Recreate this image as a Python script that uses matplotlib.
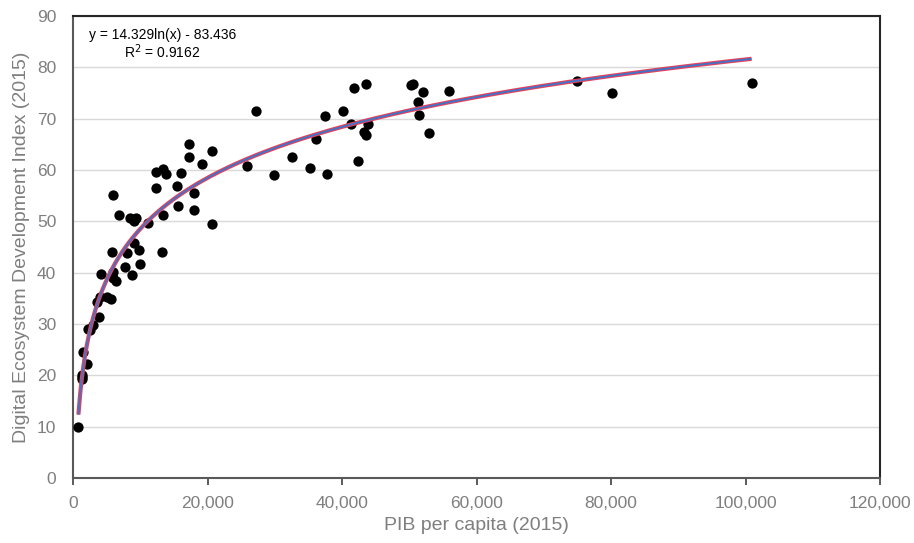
import numpy as np
import matplotlib.pyplot as plt
from matplotlib.ticker import FuncFormatter

plt.rcParams['font.family'] = ['Liberation Sans', 'DejaVu Sans']

# PIB per capita (2015) y DEDI (2015)
pib = [800, 1290, 1350, 1400, 2100, 1500, 2300, 2500, 3000, 3900, 3600, 4000,
       5000, 5600, 4200, 6000, 6000, 6400, 8700, 7700, 9900, 5800, 8000, 9800,
       9000, 13300, 11100, 8500, 9400, 9000, 6800, 13400, 6000, 12400, 15600,
       18000, 20700, 15500, 18000, 12300, 13400, 13800, 16000, 19200, 17200,
       17200, 20700, 25800, 27200, 29900, 32500, 35300, 37700, 36200, 37500,
       40200, 41300, 41800, 43600, 43800, 43300, 43500, 42400, 50300, 50600,
       52000, 51300, 51400, 52900, 55900, 75000, 80200, 100900]
dedi = [10.0, 19.6, 19.3, 20.0, 22.2, 24.5, 29.0, 28.8, 29.8, 31.3, 34.3, 35.3,
        35.3, 34.8, 39.7, 40.2, 38.9, 38.3, 39.5, 41.2, 41.7, 44.1, 43.9, 44.5,
        45.8, 44.0, 49.7, 50.6, 50.6, 50.1, 51.2, 51.2, 55.2, 56.4, 52.9,
        52.3, 49.5, 56.8, 55.6, 59.7, 60.1, 59.2, 59.5, 61.2, 62.5,
        65.0, 63.8, 60.8, 71.4, 59.0, 62.5, 60.3, 59.2, 66.0, 70.5,
        71.5, 68.9, 75.9, 76.8, 68.9, 67.5, 66.8, 61.8, 76.6, 76.7,
        75.2, 73.3, 70.7, 67.3, 75.4, 77.3, 75.0, 77.0]

# tendencia logaritmica
coef_a = 14.329
coef_b = -83.436
r2 = 0.9162

fig = plt.figure(figsize=(9.14, 5.43), dpi=100)
ax = fig.add_axes([0.0799, 0.1197, 0.8829, 0.8508])

ax.scatter(pib, dedi, s=55, color='black', zorder=3, linewidths=0)

xs = np.linspace(min(pib), max(pib), 400)
ys = coef_a * np.log(xs) + coef_b
ax.plot(xs, ys, color='#E8405A', lw=3.0, zorder=4, solid_capstyle='butt')
ax.plot(xs, ys, color='#4472C4', lw=1.4, zorder=5, solid_capstyle='butt')

ax.set_xlim(0, 120000)
ax.set_ylim(0, 90)
ax.set_xticks(np.arange(0, 120001, 20000))
ax.set_yticks(np.arange(0, 91, 10))
ax.xaxis.set_major_formatter(FuncFormatter(lambda v, p: f'{int(v):,}'))

ax.grid(axis='y', color='#D9D9D9', lw=1.0)
ax.set_axisbelow(True)
for side in ['left', 'bottom']:
    ax.spines[side].set_color('#595959')
    ax.spines[side].set_linewidth(1.5)
for side in ['top', 'right']:
    ax.spines[side].set_color('#262626')
    ax.spines[side].set_linewidth(1.5)

ax.tick_params(axis='x', length=5, width=1.2, color='#404040',
               labelsize=12.5, labelcolor='#7F7F7F', pad=8)
ax.tick_params(axis='y', length=0, labelsize=12.5, labelcolor='#7F7F7F', pad=12)

ax.set_xlabel('PIB per capita (2015)', fontsize=14, color='#7F7F7F', labelpad=4)
ax.set_ylabel('Digital Ecosystem Development Index (2015)', fontsize=14,
              color='#7F7F7F', labelpad=5)

ax.text(0.111, 0.959, f'y = {coef_a}ln(x) - {abs(coef_b)}', transform=ax.transAxes,
        ha='center', va='center', fontsize=10, color='black')
ax.text(0.111, 0.922, f'R$^2$ = {r2}', transform=ax.transAxes,
        ha='center', va='center', fontsize=10, color='black')

fig.savefig('out.png', dpi=100)
